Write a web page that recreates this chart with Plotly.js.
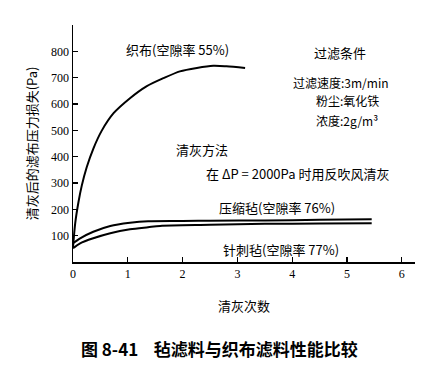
<!DOCTYPE html>
<html>
<head>
<meta charset="utf-8">
<script src="https://cdn.plot.ly/plotly-3.0.1.min.js"></script>
<style>html,body{margin:0;padding:0;background:#fff;}#chart{width:430px;height:375px;}</style>
</head>
<body>
<div id="chart"></div>
<script>
// Woven cloth (织布, porosity 55%)
const wovenX = [0, 0.04, 0.10, 0.16, 0.25, 0.37, 0.52, 0.74, 1.04, 1.34, 1.65, 1.95, 2.26, 2.56, 2.8, 3.14];
const wovenY = [55, 147, 228, 290, 360, 430, 497, 565, 622, 667, 698, 724, 737, 745, 743, 737];
// Compressed felt (压缩毡, porosity 76%)
const pressX = [0, 0.13, 0.37, 0.68, 1.04, 1.37, 2.0, 2.5, 3.5, 4.5, 5.45];
const pressY = [71, 90, 115, 137, 149, 155, 156, 157, 158, 160, 162];
// Needle felt (针刺毡, porosity 77%)
const needleX = [0, 0.13, 0.37, 0.68, 1.04, 1.37, 1.59, 2.5, 3.5, 4.5, 5.45];
const needleY = [52, 71, 90, 109, 124, 132, 137, 141, 145, 146, 147];

const xTicks = [0, 1, 2, 3, 4, 5, 6];
const yTicks = [100, 200, 300, 400, 500, 600, 700, 800];

const cjk = '"Noto Sans CJK SC", "Noto Sans", sans-serif';
const serif = '"Liberation Serif", "DejaVu Serif", serif';

const line = {color: '#000', width: 2, shape: 'spline', smoothing: 0.8};
const traces = [
  {x: wovenX, y: wovenY, mode: 'lines', line: line, name: '织布', hoverinfo: 'skip'},
  {x: pressX, y: pressY, mode: 'lines', line: line, name: '压缩毡', hoverinfo: 'skip'},
  {x: needleX, y: needleY, mode: 'lines', line: line, name: '针刺毡', hoverinfo: 'skip'}
];

function note(text, x, y, size, extra) {
  return Object.assign({text: text, x: x, y: y, xref: 'x', yref: 'y', showarrow: false,
    xanchor: 'center', yanchor: 'middle', font: {family: cjk, size: size || 12, color: '#000'}}, extra || {});
}

const layout = {
  width: 430, height: 375,
  margin: {l: 73, r: 15, t: 25, b: 113},
  paper_bgcolor: '#fff', plot_bgcolor: '#fff',
  showlegend: false,
  title: {text: '<b>图 8-41    毡滤料与织布滤料性能比较</b>', x: 0.51, xref: 'container', xanchor: 'center',
          y: 0.067, yref: 'container', yanchor: 'middle', font: {family: cjk, size: 17, color: '#000'}},
  xaxis: {
    range: [0, 6.24], tickvals: xTicks, ticktext: xTicks.map(String),
    showgrid: false, zeroline: false, showline: true, linecolor: '#000', linewidth: 1.5,
    ticks: 'inside', ticklen: 5, tickcolor: '#000', tickwidth: 1.2,
    tickfont: {family: serif, size: 12, color: '#000'},
    title: {text: '清灰次数', standoff: 22, font: {family: cjk, size: 13, color: '#000'}}
  },
  yaxis: {
    range: [0, 900], tickvals: yTicks, ticktext: yTicks.map(String),
    showgrid: false, zeroline: false, showline: true, linecolor: '#000', linewidth: 1.5,
    ticks: 'inside', ticklen: 5, tickcolor: '#000', tickwidth: 1.2,
    tickfont: {family: serif, size: 12, color: '#000'},
    title: {text: '清灰后的滤布压力损失(Pa)', standoff: 10, font: {family: cjk, size: 13, color: '#000'}}
  },
  annotations: [
    note('织布(空隙率 55%)', 1.9, 806, 13),
    note('过滤条件', 4.87, 795, 13),
    note('过滤速度:3m/min', 4.89, 683, 12),
    note('粉尘:氧化铁', 5.0, 612, 12),
    note('浓度:2g/m³', 5.0, 538, 12),
    note('清灰方法', 2.35, 426, 13),
    note('在 ΔP = 2000Pa 时用反吹风清灰', 4.1, 335, 13),
    note('压缩毡(空隙率 76%)', 3.72, 208, 13),
    note('针刺毡(空隙率 77%)', 3.8, 49, 13)
  ]
};

Plotly.newPlot('chart', traces, layout, {displayModeBar: false, staticPlot: true});
</script>
</body>
</html>
